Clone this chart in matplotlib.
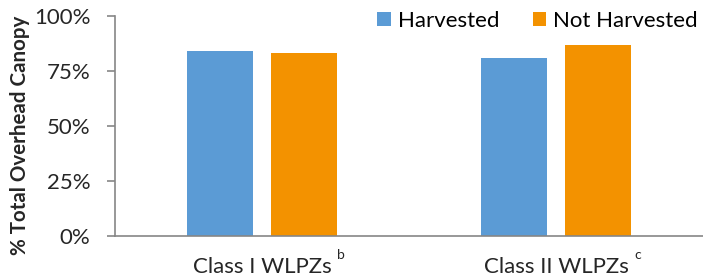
import matplotlib
matplotlib.use("Agg")
import matplotlib.pyplot as plt
import numpy as np

categories = ["Class I WLPZs", "Class II WLPZs"]
superscripts = ["b", "c"]
series_names = ["Harvested", "Not Harvested"]
harvested = [84, 81]
not_harvested = [83, 87]
yticks = [0, 25, 50, 75, 100]

plt.rcParams['font.family'] = ['Lato', 'DejaVu Sans']

W, H = 703, 279
fig = plt.figure(figsize=(W/100, H/100), dpi=100)
ax = fig.add_axes([115/W, 1-236/H, 1-115/W, 220/H])

x = np.arange(len(categories))
w = 0.224
off = 0.143
ax.bar(x - off, harvested, w, color="#5B9BD5", label=series_names[0])
ax.bar(x + off, not_harvested, w, color="#F39200", label=series_names[1])

ax.set_xlim(-0.5, 1.5)
ax.set_ylim(0, 100)
ax.set_yticks(yticks)
ax.set_yticklabels([f"{v}%" for v in yticks], fontsize=16, color="#262626")
ax.set_xticks(x)
ax.set_xticklabels(categories, fontsize=16, color="#262626")
ax.tick_params(axis='x', length=0, pad=15)
ax.tick_params(axis='y', length=5.8, color="#868686", width=1.2, pad=12)
for s in ["top", "right"]:
    ax.spines[s].set_visible(False)
for s in ["left", "bottom"]:
    ax.spines[s].set_color("#868686")
    ax.spines[s].set_linewidth(1.2)

fig.text(20/W, 1-135.5/H, "% Total Overhead Canopy", rotation=90, fontsize=14.8,
         fontweight="bold", color="#262626", ha="center", va="center")

ax.legend(loc="upper right", bbox_to_anchor=(1.006, 1.065), ncol=2, frameon=False, fontsize=16,
          handlelength=0.62, handleheight=0.62, handletextpad=0.3, columnspacing=1.5,
          borderaxespad=0)

fig.canvas.draw()
renderer = fig.canvas.get_renderer()
for lab, sup in zip(ax.get_xticklabels(), superscripts):
    bb = lab.get_window_extent(renderer)
    fig.text((bb.x1 + 6)/W, 1-249/H, sup, fontsize=10, color="#262626", ha="left", va="top")

fig.savefig("out.png", dpi=100)
